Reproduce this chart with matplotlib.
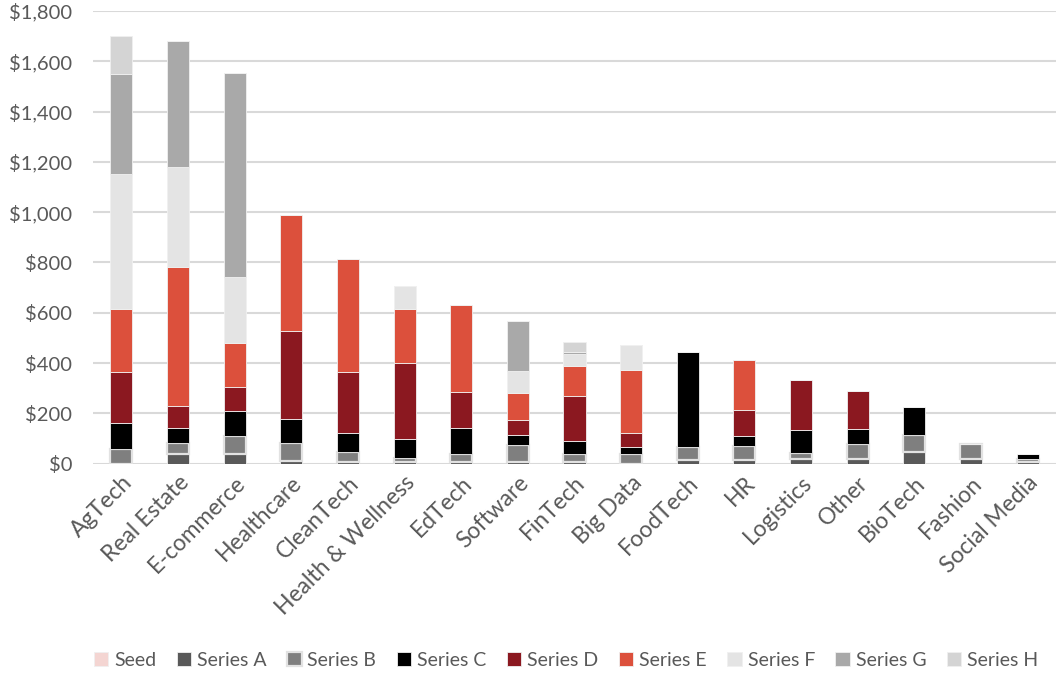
import matplotlib
matplotlib.use("Agg")
import matplotlib.pyplot as plt
from matplotlib.ticker import FuncFormatter
import numpy as np

categories = ["AgTech", "Real Estate", "E-commerce", "Healthcare", "CleanTech",
              "Health & Wellness", "EdTech", "Software", "FinTech", "Big Data",
              "FoodTech", "HR", "Logistics", "Other", "BioTech", "Fashion",
              "Social Media"]

seed     = [0, 0, 0, 0, 0, 0, 0, 0, 0, 0, 0, 0, 0, 0, 0, 0, 0]
series_a = [0, 38, 40, 12, 5, 6, 6, 6, 6, 0, 15, 15, 20, 17, 46, 18, 6]
series_b = [60, 44, 71, 70, 43, 15, 34, 70, 34, 40, 50, 54, 22, 61, 69, 62, 14]
series_c = [102, 60, 97, 96, 75, 77, 104, 39, 49, 26, 378, 40, 91, 60, 110, 0, 20]
series_d = [201, 89, 99, 348, 242, 302, 142, 59, 179, 57, 0, 103, 200, 152, 0, 0, 0]
series_e = [252, 550, 173, 464, 449, 217, 344, 108, 122, 251, 0, 199, 0, 0, 0, 0, 0]
series_f = [535, 400, 261, 0, 0, 88, 0, 87, 45, 99, 0, 0, 0, 0, 0, 0, 0]
series_g = [400, 501, 812, 0, 0, 0, 0, 198, 8, 0, 0, 0, 0, 0, 0, 0, 0]
series_h = [150, 0, 0, 0, 0, 0, 0, 0, 39, 0, 0, 0, 0, 0, 0, 0, 0]

series_names = ["Seed", "Series A", "Series B", "Series C", "Series D",
                "Series E", "Series F", "Series G", "Series H"]
series_values = [seed, series_a, series_b, series_c, series_d,
                 series_e, series_f, series_g, series_h]
colors = ["#f4d5d2", "#595959", "#7f7f7f", "#000000", "#8b1820",
          "#dc503c", "#e4e4e4", "#a9a9a9", "#d4d4d4"]

plt.rcParams["font.family"] = ["Lato", "DejaVu Sans"]
text_color = "#595959"

fig = plt.figure(figsize=(10.58, 6.83), dpi=100)
ax = fig.add_axes([0.088, 0.321, 0.910, 0.663])

x = np.arange(len(categories))
bottom = np.zeros(len(categories))
handles = []
for name, vals, col in zip(series_names, series_values, colors):
    vals = np.array(vals, dtype=float)
    edge = "#e2e2e2" if name == "Series B" else "#f0f0f0"
    lw = 1.6 if name == "Series B" else 0.6
    b = ax.bar(x, vals, width=0.39, bottom=bottom, color=col,
               edgecolor=edge, linewidth=lw, label=name, zorder=3)
    handles.append(b)
    bottom += vals

ax.set_xlim(-0.5, len(categories) - 0.5)
ax.set_ylim(0, 1800)
ax.set_yticks(np.arange(0, 1801, 200))
ax.yaxis.set_major_formatter(FuncFormatter(lambda v, p: "${:,.0f}".format(v)))
ax.grid(axis="y", color="#d9d9d9", linewidth=1.5, zorder=0)
ax.set_axisbelow(True)
for s in ax.spines.values():
    s.set_visible(False)
ax.tick_params(axis="both", length=0, colors=text_color)
ax.tick_params(axis="y", labelsize=14.5, pad=15)
ax.set_xticks(x)
ax.set_xticklabels(categories, rotation=45, ha="right", rotation_mode="anchor")
ax.tick_params(axis="x", labelsize=16.5, pad=6)

leg = fig.legend(handles=handles, labels=series_names, loc="lower center",
                 bbox_to_anchor=(0.535, -0.005), ncol=9, frameon=False,
                 fontsize=14, handlelength=0.75, handleheight=0.75,
                 handletextpad=0.3, columnspacing=1.05)
for t in leg.get_texts():
    t.set_color(text_color)

fig.savefig("out.png", dpi=100)
